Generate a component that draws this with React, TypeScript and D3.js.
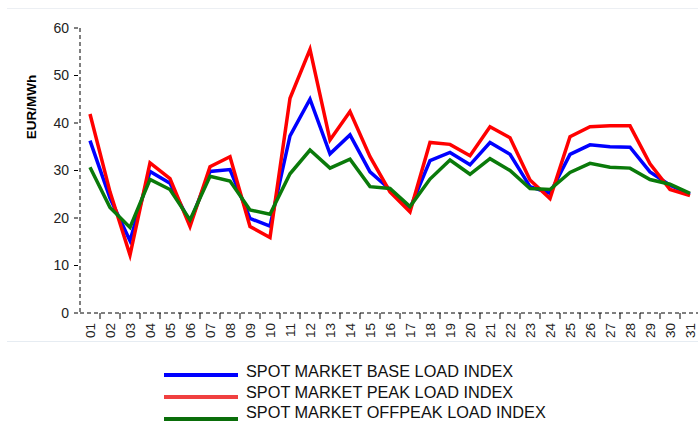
import React from 'react';
import * as d3 from 'd3';

const days = ['01','02','03','04','05','06','07','08','09','10','11','12','13','14','15','16','17','18','19','20','21','22','23','24','25','26','27','28','29','30','31'];

const baseLoad = [36.3, 24.2, 15.2, 29.8, 27.3, 19.0, 29.8, 30.2, 19.9, 18.3, 37.3, 45.0, 33.5, 37.5, 29.7, 26.0, 22.0, 32.1, 33.8, 31.2, 35.9, 33.4, 26.6, 25.2, 33.4, 35.4, 35.0, 34.9, 29.7, 26.9, 25.0];
const peakLoad = [41.9, 25.5, 12.2, 31.6, 28.3, 18.2, 30.8, 32.9, 18.2, 15.9, 45.2, 55.5, 36.4, 42.4, 32.9, 25.5, 21.3, 35.9, 35.5, 33.1, 39.2, 36.9, 28.0, 24.1, 37.1, 39.2, 39.4, 39.4, 31.4, 26.0, 24.7];
const offpeakLoad = [30.7, 22.2, 18.0, 28.1, 26.0, 19.6, 28.8, 27.8, 21.7, 20.8, 29.3, 34.3, 30.5, 32.4, 26.6, 26.2, 22.4, 28.2, 32.2, 29.2, 32.5, 30.0, 26.2, 26.0, 29.6, 31.5, 30.7, 30.5, 28.1, 27.1, 25.2];

const yTicks = [0, 10, 20, 30, 40, 50, 60];

const series = [
  { name: 'SPOT MARKET BASE LOAD INDEX', values: baseLoad, color: '#0000ff', legend: '#0000ff' },
  { name: 'SPOT MARKET PEAK LOAD INDEX', values: peakLoad, color: '#ff0000', legend: '#f04040' },
  { name: 'SPOT MARKET OFFPEAK LOAD INDEX', values: offpeakLoad, color: '#0a7a0a', legend: '#0a6e0a' },
];

const App: React.FC = () => {
  const width = 698;
  const height = 421;
  const margin = { left: 80, top: 28, bottom: 313 };

  const x = d3.scaleBand<string>().domain(days).range([margin.left, 700]);
  const y = d3.scaleLinear().domain([0, 60]).range([margin.bottom, margin.top]);

  const line = d3.line<number>()
    .x((_, i) => (x(days[i]) as number) + x.bandwidth() / 2)
    .y(d => y(d));

  const font = 'Liberation Sans, Arial, sans-serif';

  return (
    <svg width={width} height={height} style={{ position: 'absolute', left: 0, top: 0, fontFamily: font }}>
      <line x1={7} x2={698} y1={8.5} y2={8.5} stroke="#eceff3" />
      <line x1={7} x2={698} y1={341.5} y2={341.5} stroke="#e6ecf2" />

      {/* y axis */}
      <line x1={margin.left} x2={margin.left} y1={y(60)} y2={y(0)} stroke="#000" strokeDasharray="4,3" />
      {yTicks.map(t => (
        <g key={t} transform={`translate(0, ${y(t)})`}>
          <line x1={margin.left - 6} x2={margin.left} stroke="#000" strokeDasharray="4,3" />
          <text x={margin.left - 11} dy="0.35em" textAnchor="end" fontSize={14} fill="#222">{t}</text>
        </g>
      ))}
      <text transform={`translate(36, 107) rotate(-90)`} textAnchor="middle" fontSize={13.5} fontWeight="bold">EUR/MWh</text>

      {/* x axis */}
      <line x1={margin.left} x2={700} y1={y(0)} y2={y(0)} stroke="#000" strokeDasharray="4,3" />
      {days.map(d => (
        <g key={d}>
          <line x1={(x(d) as number) + x.bandwidth()} x2={(x(d) as number) + x.bandwidth()} y1={y(0)} y2={y(0) + 6} stroke="#000" />
          <text
            transform={`translate(${(x(d) as number) + x.bandwidth() / 2}, ${y(0) + 10}) rotate(-90)`}
            textAnchor="end"
            dy="0.35em"
            fontSize={13.5}
            fill="#222"
          >{d}</text>
        </g>
      ))}

      {series.map(s => (
        <path key={s.name} d={line(s.values) || ''} fill="none" stroke={s.color} strokeWidth={3.5} strokeLinejoin="miter" />
      ))}

      {/* legend */}
      {series.map((s, i) => (
        <g key={s.name}>
          <line x1={164} x2={238} y1={375 + i * 22} y2={375 + i * 22} stroke={s.legend} strokeWidth={4} />
          <text x={246} y={377 + i * 20.5} fontSize={16.3} fill="#111">{s.name}</text>
        </g>
      ))}
    </svg>
  );
};

export default App;
